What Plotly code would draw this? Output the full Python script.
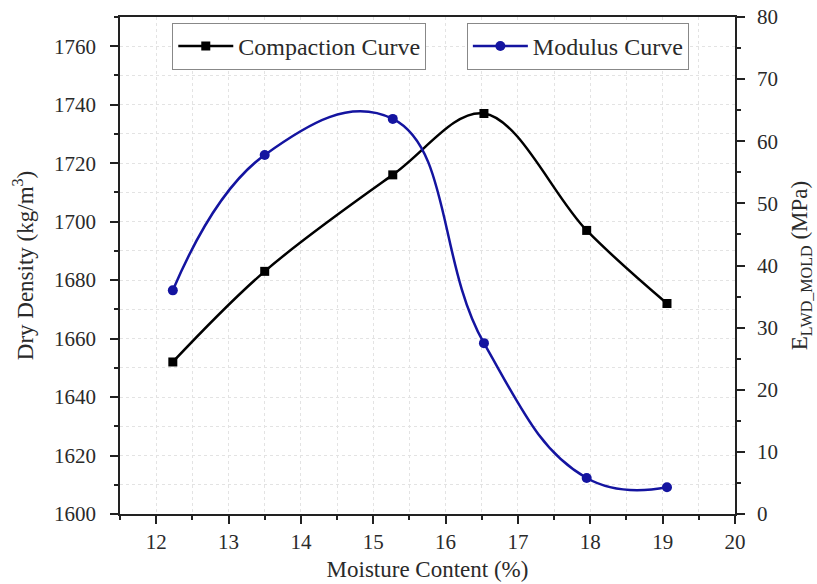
import plotly.graph_objects as go

moisture = [12.23, 13.50, 15.27, 16.53, 17.95, 19.06]
dry_density = [1652, 1683, 1716, 1737, 1697, 1672]
modulus = [36.0, 57.8, 63.6, 27.5, 5.8, 4.3]

FONT = "Liberation Serif"
BLUE = "#1414a0"
TXT = "#2a2a2a"

def f(size):
    return dict(family=FONT, size=size, color=TXT)

fig = go.Figure()
fig.add_trace(go.Scatter(
    x=moisture, y=dry_density, name="Compaction Curve", showlegend=True,
    mode="lines+markers", line=dict(color="black", width=2.5, shape="spline", smoothing=1.0),
    marker=dict(symbol="square", size=9, color="black"), legend="legend", yaxis="y"))
fig.add_trace(go.Scatter(
    x=moisture, y=modulus, name="Modulus Curve", showlegend=True,
    mode="lines+markers", line=dict(color=BLUE, width=2.5, shape="spline", smoothing=1.25),
    marker=dict(symbol="circle", size=10, color=BLUE), legend="legend2", yaxis="y2"))

grid = "#e3e3e3"
fig.update_layout(
    width=817, height=584,
    showlegend=True,
    margin=dict(l=120, r=82, t=17, b=70),
    paper_bgcolor="white", plot_bgcolor="white",
    font=f(21),
    xaxis=dict(
        range=[11.5, 20], dtick=1, tick0=12, showline=True, linecolor="#222", linewidth=1.5,
        mirror=True, ticks="outside", ticklen=8, tickwidth=1.5, tickcolor="#222",
        showgrid=True, gridcolor=grid, griddash="dot", gridwidth=1,
        tickfont=f(21), automargin=False,
        minor=dict(dtick=0.5, tick0=12, ticks="outside", ticklen=4, tickwidth=1.5, tickcolor="#222",
                   showgrid=True, gridcolor=grid, griddash="dot"),
        title=dict(text="Moisture Content (%)", font=f(23), standoff=8),
        zeroline=False),
    yaxis=dict(
        range=[1600, 1770], dtick=20, tick0=1600, showline=True, linecolor="#222", linewidth=1.5,
        ticks="outside", ticklen=8, tickwidth=1.5, tickcolor="#222",
        showgrid=True, gridcolor=grid, griddash="dot",
        tickfont=f(21), automargin=False, ticklabelstandoff=10,
        minor=dict(dtick=10, tick0=1600, ticks="outside", ticklen=4, tickwidth=1.5, tickcolor="#222",
                   showgrid=True, gridcolor=grid, griddash="dot"),
        title=dict(text="Dry Density (kg/m<sup>3</sup>)", font=f(23), standoff=14),
        zeroline=False),
    yaxis2=dict(
        range=[0, 80], dtick=10, tick0=0, overlaying="y", side="right",
        showline=True, linecolor="#222", linewidth=1.5,
        ticks="outside", ticklen=8, tickwidth=1.5, tickcolor="#222", showgrid=False,
        tickfont=f(21), automargin=False, ticklabelstandoff=8,
        minor=dict(dtick=5, tick0=0, ticks="outside", ticklen=4, tickwidth=1.5, tickcolor="#222", showgrid=False),
        title=dict(text="E<sub>LWD_MOLD</sub> (MPa)", font=f(23), standoff=14),
        zeroline=False),
    legend=dict(x=0.085, y=0.988, xanchor="left", yanchor="top",
                bgcolor="white", bordercolor="#888", borderwidth=1,
                itemwidth=55, font=f(24)),
    legend2=dict(x=0.564, y=0.988, xanchor="left", yanchor="top",
                 bgcolor="white", bordercolor="#888", borderwidth=1,
                 itemwidth=55, font=f(24)),
)

fig.write_html("out.html")
